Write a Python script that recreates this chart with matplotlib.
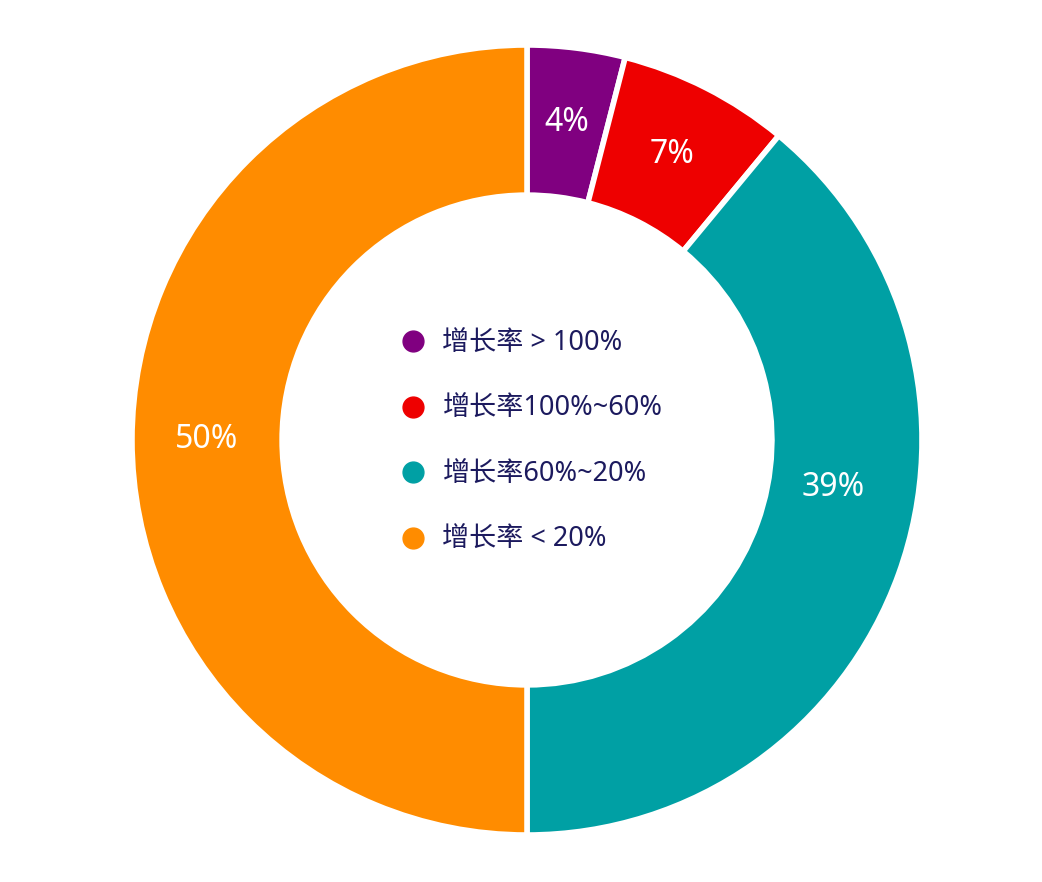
import numpy as np
import matplotlib
matplotlib.use("Agg")
import matplotlib.pyplot as plt
from matplotlib.lines import Line2D

plt.rcParams['font.family'] = ['Noto Sans', 'Noto Sans CJK SC', 'DejaVu Sans']

categories = ['增长率 > 100%', '增长率100%~60%', '增长率60%~20%', '增长率 < 20%']
values = [4, 7, 39, 50]
colors = ['#800080', '#EE0000', '#00A0A4', '#FF8C00']
text_color = '#1C1A5E'

W, H = 1042, 882
fig = plt.figure(figsize=(W / 100, H / 100), dpi=100)
cx, cy, R = 527, 440, 395
ax = fig.add_axes([(cx - R) / W, (H - cy - R) / H, 2 * R / W, 2 * R / H])

wedges, texts = ax.pie(
    values, colors=colors, startangle=90, counterclock=False, radius=1,
    wedgeprops=dict(width=0.38, edgecolor='white', linewidth=4),
    labels=[f'{v}%' for v in values], labeldistance=0.81,
    textprops=dict(color='white', fontsize=23, fontweight='medium',
                   ha='center', va='center'),
)
# the 39% label sits higher in its wedge in the reference
ang = np.deg2rad(-8.9)
texts[2].set_position((0.785 * np.cos(ang), 0.785 * np.sin(ang)))

ax.set_xlim(-1, 1)
ax.set_ylim(-1, 1)
ax.set_aspect('equal')
ax.axis('off')

handles = [Line2D([0], [0], marker='o', linestyle='none', markersize=15,
                  markerfacecolor=c, markeredgecolor=c) for c in colors]
leg = ax.legend(handles, categories, loc='center', bbox_to_anchor=(0.503, 0.4975),
                frameon=False, fontsize=19.5, labelspacing=1.38, handletextpad=0.5,
                handlelength=1.2, labelcolor=text_color)

fig.savefig('out.png', dpi=100, facecolor='white')
